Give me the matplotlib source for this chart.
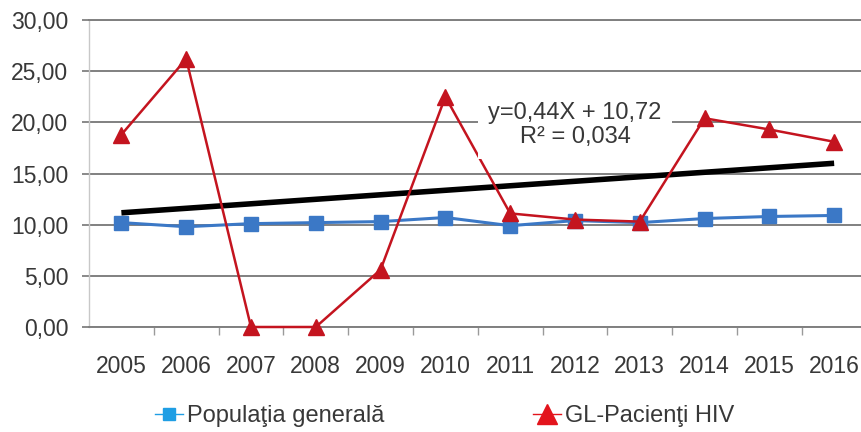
import matplotlib
matplotlib.use("Agg")
import matplotlib.pyplot as plt
from matplotlib.lines import Line2D
from matplotlib.ticker import FixedLocator, FuncFormatter
import numpy as np

# Annual values per group
years = ["2005", "2006", "2007", "2008", "2009", "2010",
         "2011", "2012", "2013", "2014", "2015", "2016"]
populatia_generala = [10.2, 9.8, 10.1, 10.2, 10.3, 10.7,
                      9.9, 10.4, 10.2, 10.6, 10.8, 10.9]
gl_pacienti_hiv = [18.8, 26.2, 0.0, 0.0, 5.6, 22.5,
                   11.1, 10.5, 10.3, 20.4, 19.3, 18.1]

# Linear trend for the HIV series (X = 1 for the first year)
trend_slope = 0.44
trend_intercept = 10.72
r_squared = 0.034

y_ticks = [0, 5, 10, 15, 20, 25, 30]

plt.rcParams["font.family"] = ["Liberation Sans", "DejaVu Sans"]

W, H = 862, 432
fig = plt.figure(figsize=(W / 100, H / 100), dpi=100)
fig.patch.set_facecolor("white")
ax = fig.add_axes([89 / W, 105 / H, (W - 89) / W, 307 / H])

grid_col = "#808080"
text_col = "#383838"
fs_ticks = 16.5
fs_text = 17

x = np.arange(len(years))
trend_x = x + 1
trend_y = trend_slope * trend_x + trend_intercept

ax.plot(x, populatia_generala, color="#3b78c6", lw=2.2, marker="s", ms=9.5,
        zorder=3, clip_on=False)
ax.plot(x, trend_y, color="black", lw=4.0, solid_capstyle="butt", zorder=4)
ax.plot(x, gl_pacienti_hiv, color="#c4141f", lw=1.8, marker="^", ms=11,
        zorder=5, clip_on=False)

ax.set_xlim(-0.5, 11.43)
ax.set_ylim(0, 30)

# x axis: labels centred on categories, tick marks between them
ax.xaxis.set_major_locator(FixedLocator(x))
ax.set_xticklabels(years)
ax.xaxis.set_minor_locator(FixedLocator(x[:-1] + 0.5))
ax.tick_params(axis="x", which="major", length=0, pad=20, labelsize=fs_ticks,
               labelcolor=text_col)
ax.tick_params(axis="x", which="minor", length=5.5, width=1.0, color="#9a9a9a",
               direction="out")

# y axis
ax.yaxis.set_major_locator(FixedLocator(y_ticks))
ax.yaxis.set_major_formatter(FuncFormatter(lambda v, p: f"{v:.2f}".replace(".", ",")))
ax.tick_params(axis="y", which="major", length=5, width=1.3, color=grid_col,
               pad=10, labelsize=fs_ticks, labelcolor=text_col)
ax.yaxis.grid(True, color=grid_col, lw=1.4, zorder=1)
ax.set_axisbelow(True)

ax.spines["right"].set_visible(False)
for side in ("top", "bottom"):
    ax.spines[side].set_color(grid_col)
    ax.spines[side].set_linewidth(1.4)
ax.spines["left"].set_color("#c8c8c8")
ax.spines["left"].set_linewidth(1.0)

# trend equation
eq_text = (f"y={trend_slope:.2f}X + {trend_intercept:.2f}".replace(".", ",")
           + "\n" + f"R² = {r_squared:.3f}".replace(".", ","))
ax.text(7.0, 19.75, eq_text, ha="center", va="center", multialignment="center",
        fontsize=fs_text, color=text_col, zorder=6, linespacing=1.15,
        bbox=dict(boxstyle="square,pad=0.45", facecolor="white", edgecolor="none"))

# legend
handles = [
    Line2D([], [], color="#1f9ee4", lw=1.0, marker="s", ms=9,
           label="Populaţia generală"),
    Line2D([], [], color="#e3141c", lw=1.0, marker="^", ms=15,
           label="GL-Pacienţi HIV"),
]
leg = fig.legend(handles=handles, ncol=2, loc="center left",
                 bbox_to_anchor=(155 / W, 1 - 416 / H), frameon=False,
                 fontsize=fs_text, handlelength=1.2, handletextpad=0.15,
                 columnspacing=6.3, borderpad=0, borderaxespad=0)
for t in leg.get_texts():
    t.set_color(text_col)

fig.savefig("out.png", dpi=100)
